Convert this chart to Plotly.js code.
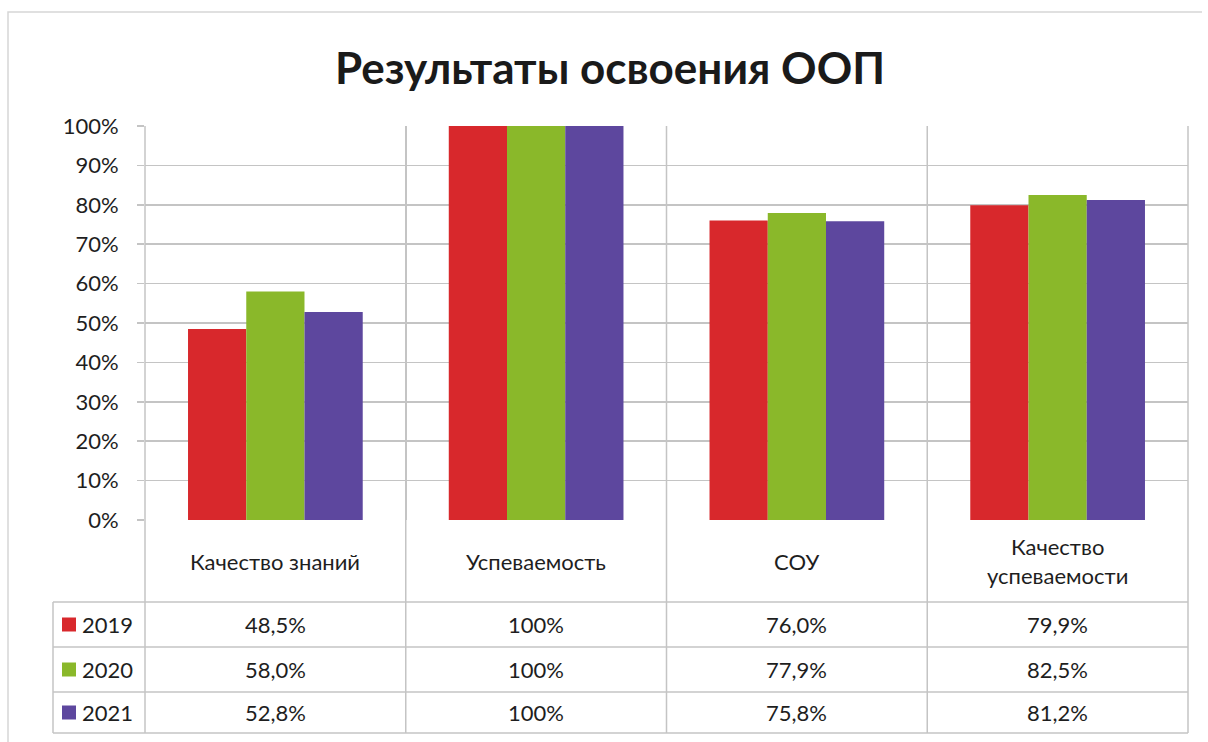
<!DOCTYPE html>
<html>
<head>
<meta charset="utf-8">
<script src="https://cdn.plot.ly/plotly-3.0.1.min.js"></script>
<style>
  html, body { margin: 0; padding: 0; background: #fff; }
  #chart { width: 1208px; height: 742px; }
</style>
</head>
<body>
<div id="chart"></div>
<script>
const categories = ['Качество знаний', 'Успеваемость', 'СОУ', 'Качество успеваемости'];
const categoryLabels = ['Качество знаний', 'Успеваемость', 'СОУ', 'Качество<br>успеваемости'];
const years = ['2019', '2020', '2021'];
const values2019 = [48.5, 100, 76.0, 79.9];
const values2020 = [58.0, 100, 77.9, 82.5];
const values2021 = [52.8, 100, 75.8, 81.2];
const yTicks = [0, 10, 20, 30, 40, 50, 60, 70, 80, 90, 100];

const seriesValues = [values2019, values2020, values2021];
const seriesColors = ['#d8282c', '#8ab82a', '#5d479e'];

const font = 'Lato, "Open Sans", sans-serif';
const gridColor = '#c4c4c4';
const textColor = '#1e1e1e';

// pixel helpers for the table under the plot (plot area: x 145..1188, y 126..520)
const plotTop = 126, plotBottom = 520, plotLeft = 145, plotRight = 1188;
const py = p => (plotBottom - p) / (plotBottom - plotTop);
const px = p => (p - plotLeft) / (plotRight - plotLeft);

const rowLines = [602, 647, 692, 733];
const rowCenters = [624.5, 669.5, 712.5];

function fmt(v) {
    return v === 100 ? '100%' : v.toFixed(1).replace('.', ',') + '%';
}

const traces = seriesValues.map((vals, i) => ({
    type: 'bar',
    name: years[i],
    x: categories,
    y: vals,
    marker: { color: seriesColors[i] },
    hoverinfo: 'skip'
}));

const shapes = [];
const annotations = [];

// horizontal table lines
rowLines.forEach(p => {
    shapes.push({
        type: 'line', xref: 'paper', yref: 'paper',
        x0: px(53), x1: 1, y0: py(p), y1: py(p),
        line: { color: gridColor, width: 1.5 }
    });
});
// table left edge
shapes.push({
    type: 'line', xref: 'paper', yref: 'paper',
    x0: px(53), x1: px(53), y0: py(rowLines[0]), y1: py(rowLines[3]),
    line: { color: gridColor, width: 1.5 }
});
// vertical category boundaries down through the table
for (let k = 0; k <= categories.length; k++) {
    shapes.push({
        type: 'line', xref: 'paper', yref: 'paper',
        x0: k / categories.length, x1: k / categories.length,
        y0: 1, y1: py(rowLines[3]),
        line: { color: gridColor, width: 1.5 }
    });
}
// outer frame (left and top)
shapes.push({
    type: 'path', xref: 'paper', yref: 'paper',
    path: `M ${px(8)} ${py(745)} L ${px(8)} ${py(12)} L ${px(1202)} ${py(12)}`,
    line: { color: '#d6d6d6', width: 1.5 }
});

const cellFont = { family: font, size: 22, color: textColor };

// category labels
categories.forEach((c, j) => {
    annotations.push({
        x: c, xref: 'x', y: py(561), yref: 'paper', yanchor: 'middle',
        text: categoryLabels[j], showarrow: false,
        font: cellFont
    });
});

// legend keys and values
years.forEach((yr, i) => {
    const yc = py(rowCenters[i]);
    shapes.push({
        type: 'rect', xref: 'paper', yref: 'paper',
        x0: px(62), x1: px(76), y0: py(rowCenters[i] - 7), y1: py(rowCenters[i] + 7),
        fillcolor: seriesColors[i], line: { width: 0 }
    });
    annotations.push({
        x: px(80), xref: 'paper', y: yc, yref: 'paper', xanchor: 'left', yanchor: 'middle',
        text: yr, showarrow: false,
        font: cellFont
    });
    seriesValues[i].forEach((v, j) => {
        annotations.push({
            x: categories[j], xref: 'x', y: yc, yref: 'paper', yanchor: 'middle',
            text: fmt(v), showarrow: false,
            font: cellFont
        });
    });
});

const layout = {
    width: 1208,
    height: 742,
    title: {
        text: '<b>Результаты освоения ООП</b>',
        x: 0.505, xanchor: 'center',
        y: 0.908, yanchor: 'middle',
        font: { family: font, size: 44, color: '#1a1a1a' }
    },
    margin: { l: plotLeft, r: 1208 - plotRight, t: plotTop, b: 742 - plotBottom },
    barmode: 'group',
    bargap: 0.33,
    bargroupgap: 0,
    showlegend: false,
    xaxis: {
        type: 'category',
        showticklabels: false,
        tickson: 'boundaries',
        showgrid: true,
        gridcolor: gridColor,
        gridwidth: 1.5,
        ticks: '',
        zeroline: false,
        showline: false
    },
    yaxis: {
        range: [0, 100],
        tickvals: yTicks,
        ticktext: yTicks.map(t => t + '%'),
        ticks: 'outside',
        ticklen: 7,
        tickcolor: gridColor,
        tickwidth: 1.5,
        ticklabelstandoff: 14,
        gridcolor: gridColor,
        gridwidth: 1.5,
        zeroline: false,
        showline: false,
        tickfont: { family: font, size: 22, color: textColor }
    },
    shapes: shapes,
    annotations: annotations,
    paper_bgcolor: '#fff',
    plot_bgcolor: '#fff'
};

Plotly.newPlot('chart', traces, layout, { displayModeBar: false, staticPlot: true });
</script>
</body>
</html>
